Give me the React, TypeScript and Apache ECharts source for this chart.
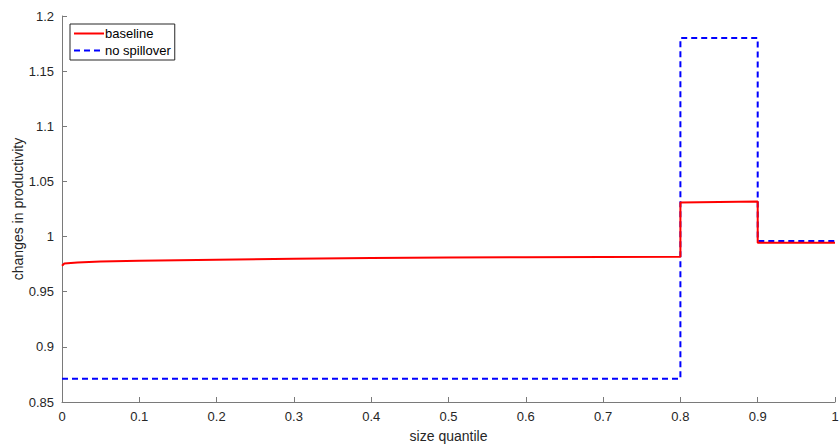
import React, { useEffect, useRef } from "react";
import * as echarts from "echarts";

const baselineX = [0, 0.003, 0.02, 0.05, 0.1, 0.2, 0.3, 0.4, 0.5, 0.6, 0.7, 0.8, 0.8, 0.9, 0.9, 1.0];
const baselineY = [0.9735, 0.9755, 0.9765, 0.9775, 0.978, 0.979, 0.98, 0.9805, 0.981, 0.9812, 0.9815, 0.9817, 1.0308, 1.0318, 0.9945, 0.9945];
const noSpillX = [0, 0.8, 0.8, 0.9, 0.9, 1.0];
const noSpillY = [0.871, 0.871, 1.18, 1.18, 0.996, 0.996];
const seriesNames = ["baseline", "no spillover"];

export default function App() {
  const ref = useRef<HTMLDivElement>(null);
  useEffect(() => {
    if (!ref.current) return;
    const chart = echarts.init(ref.current, undefined, { renderer: "svg" });
    const font = "Liberation Sans, Arial, Helvetica, sans-serif";
    const axisCommon = {
      axisLine: { show: true, lineStyle: { color: "#7a7a7a", width: 1 } },
      axisTick: { show: true, inside: true, length: 5, lineStyle: { color: "#7a7a7a" } },
      splitLine: { show: false },
      axisLabel: {
        color: "#262626",
        fontSize: 13,
        fontFamily: font,
        formatter: (v: number) => String(+v.toFixed(2)),
      },
      nameTextStyle: { color: "#262626", fontSize: 14, fontFamily: font },
      nameMoveOverlap: false,
    };
    chart.setOption({
      animation: false,
      backgroundColor: "#ffffff",
      grid: { left: 62, right: 5, top: 16, bottom: 46, containLabel: false, outerBoundsMode: "none" },
      legend: {
        left: 70,
        top: 24,
        orient: "vertical",
        data: seriesNames,
        borderColor: "#262626",
        borderWidth: 1,
        padding: [3, 4, 3, 3],
        itemGap: 4,
        itemWidth: 30,
        itemHeight: 12,
        backgroundColor: "#fff",
        itemStyle: { opacity: 0 },
        textStyle: { color: "#000", fontSize: 13, fontFamily: font, padding: [0, 0, 0, -4] },
      },
      xAxis: {
        type: "value",
        min: 0,
        max: 1,
        interval: 0.1,
        name: "size quantile",
        nameLocation: "middle",
        nameGap: 27,
        ...axisCommon,
      },
      yAxis: {
        type: "value",
        min: 0.85,
        max: 1.2,
        interval: 0.05,
        name: "changes in productivity",
        nameLocation: "middle",
        nameGap: 37,
        ...axisCommon,
      },
      series: [
        {
          name: seriesNames[0],
          type: "line",
          data: baselineX.map((x, i) => [x, baselineY[i]]),
          showSymbol: false,
          symbol: "none",
          lineStyle: { color: "#ff0000", width: 2 },
          itemStyle: { color: "#ff0000" },
          z: 3,
        },
        {
          name: seriesNames[1],
          type: "line",
          data: noSpillX.map((x, i) => [x, noSpillY[i]]),
          showSymbol: false,
          symbol: "none",
          lineStyle: { color: "#0000ff", width: 2, type: [6, 4] },
          itemStyle: { color: "#0000ff" },
          z: 2,
        },
      ],
    });
    return () => chart.dispose();
  }, []);
  return <div ref={ref} style={{ width: 840, height: 448, position: "fixed", left: 0, top: 0 }} />;
}
